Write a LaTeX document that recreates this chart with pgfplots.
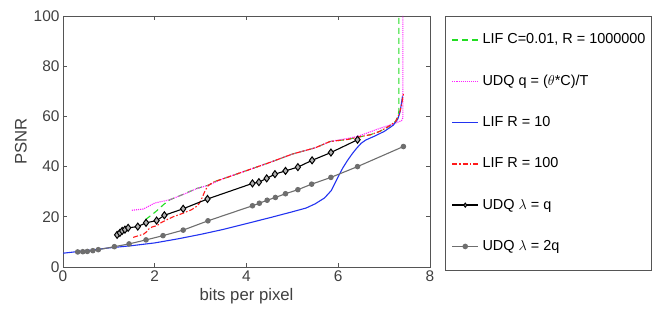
\documentclass[border=0pt]{standalone}
\usepackage{fontspec}
\setmainfont{Liberation Sans}
\usepackage{pgfplots}
\pgfplotsset{compat=1.18}

\definecolor{lifgreen}{HTML}{22DD22}
\definecolor{udqmag}{HTML}{FF22FF}
\definecolor{lifblue}{HTML}{2233F0}
\definecolor{lifred}{HTML}{FF1A1A}
\definecolor{udqgray}{HTML}{6E6E6E}
\definecolor{framegray}{HTML}{555555}
\definecolor{txtgray}{HTML}{404040}

\begin{document}
\begin{tikzpicture}[x=1bp,y=1bp]
\useasboundingbox (0,0) rectangle (660,309);
\begin{axis}[
  at={(63bp,42bp)}, anchor=south west,
  scale only axis, width=367bp, height=251bp,
  xmin=0, xmax=8, ymin=0, ymax=100,
  xtick={0,2,4,6,8}, ytick={0,20,40,60,80,100},
  tick align=inside, major tick length=4bp,
  axis line style={draw=framegray, line width=0.9bp},
  tick style={draw=framegray, line width=0.8bp},
  /pgf/number format/assume math mode=true,
  ticklabel style={font=\fontsize{15.5}{15.5}\selectfont, text=txtgray},
  xlabel={bits per pixel}, ylabel={PSNR},
  label style={font=\fontsize{16.8}{16.8}\selectfont, text=txtgray},
  legend cell align=left,
  legend style={at={(1.041,1)}, anchor=north west,
    draw=framegray, line width=0.9bp,
    font=\fontsize{14.5}{14.5}\selectfont,
    inner xsep=6bp, inner ysep=16.5bp, row sep=27.3bp, column sep=3.5bp,
    nodes={inner sep=0pt, text height=11bp, text depth=3bp}},
  legend image code/.code={%
    \draw[mark repeat=2,mark phase=2,#1,line width=1.5bp,mark size=2bp]
      plot coordinates {(0bp,0bp) (13bp,0bp) (26bp,0bp)};},
]
% LIF C=0.01, R=1000000
\addplot[lifgreen, line width=1.1bp, dash pattern=on 6bp off 4bp] coordinates {
(1.8,18.9)(1.95,21)(2.05,22.5)(2.2,25)(2.33,26.8)(2.6,28.8)(2.9,31.2)(3.17,32.6)
(3.3,34)(3.5,35.2)(4,38.4)(4.5,41.6)(5,45)(5.5,47.5)(5.82,50)(6.2,50.8)(6.42,51.7)
(6.7,52.7)(6.9,54)(7.1,56)(7.25,58)(7.3,60)(7.32,62)(7.32,100)};
\addlegendentry{LIF C=0.01, R = 1000000}
% UDQ q = (theta*C)/T
\addplot[udqmag, line width=1.1bp, densely dotted] coordinates {
(1.5,22.6)(1.75,23.1)(1.9,24.5)(2.0,25.5)(2.33,26.8)(2.7,29.5)(2.91,31.2)(3.17,32.6)
(3.5,35.3)(4,38.4)(4.5,41.6)(5,45)(5.5,47.5)(5.82,50)(6.2,51.2)(6.42,52)(6.9,55.2)
(7.2,57)(7.38,58.3)(7.41,59.5)(7.41,100)};
\addlegendentry{UDQ q = ($\theta$*C)/T}
% LIF R=10
\addplot[lifblue, line width=1.1bp, solid] coordinates {
(0,5.5)(0.5,6.5)(1,7.6)(1.5,8.5)(2,9.6)(2.5,11.2)(3,13)(3.5,15)(4,17.3)(4.5,19.6)
(5,22)(5.3,23.5)(5.5,25.2)(5.7,27.5)(5.85,30.5)(6,36)(6.1,39.5)(6.2,42.4)(6.3,45)
(6.4,47.3)(6.5,49.3)(6.6,50.6)(6.8,52.2)(7,54)(7.2,56.5)(7.3,59)(7.35,62)(7.4,68)};
\addlegendentry{LIF R = 10}
% LIF R=100
\addplot[lifred, line width=1.1bp, dash pattern=on 5bp off 2bp on 1.5bp off 2bp] coordinates {
(1.53,11.8)(1.65,12.5)(1.75,13)(1.82,14)(1.88,15.3)(1.95,16)(2.05,16.5)(2.15,17.8)
(2.25,18.7)(2.4,20)(2.6,21.3)(2.8,22.8)(2.9,24)(2.97,25.3)(3.03,27.5)(3.1,30.5)
(3.17,32.5)(3.3,34)(3.5,35.2)(4,38.4)(4.5,41.6)(5,45)(5.5,47.5)(5.82,50)(6.2,50.8)
(6.42,51.7)(6.7,52.7)(6.9,54)(7.1,56)(7.25,58)(7.33,61)(7.38,64.5)(7.42,69)};
\addlegendentry{LIF R = 100}
% UDQ lambda = q
\addplot[black, line width=1.1bp, mark=diamond*, mark size=3.5bp,
  mark options={solid, fill=gray!60, draw=black, line width=1bp}] coordinates {
(1.18,12.8)(1.24,13.6)(1.29,14.4)(1.35,14.9)(1.42,15.6)(1.63,16.1)(1.81,17.6)
(2.04,18.5)(2.21,20.6)(2.62,23.2)(3.15,27.1)(4.13,33.3)(4.27,33.8)(4.44,35.3)
(4.62,37)(4.85,38.3)(5.12,39.8)(5.43,42.5)(5.84,45.6)(6.42,50.7)};
\addlegendentry{UDQ $\lambda$ = q}
% UDQ lambda = 2q
\addplot[udqgray, line width=1.1bp, mark=*, mark size=2.2bp,
  mark options={solid, fill=udqgray, draw=udqgray}] coordinates {
(0.32,6)(0.43,6.1)(0.53,6.2)(0.65,6.5)(0.77,6.9)(1.12,8.1)(1.44,9.2)(1.81,10.8)
(2.18,12.5)(2.62,14.7)(3.16,18.4)(4.13,24.4)(4.28,25.4)(4.45,26.6)(4.63,27.7)
(4.85,29.2)(5.12,30.8)(5.42,33)(5.84,35.7)(6.42,40)(7.42,48)};
\addlegendentry{UDQ $\lambda$ = 2q}
\end{axis}
\end{tikzpicture}
\end{document}
